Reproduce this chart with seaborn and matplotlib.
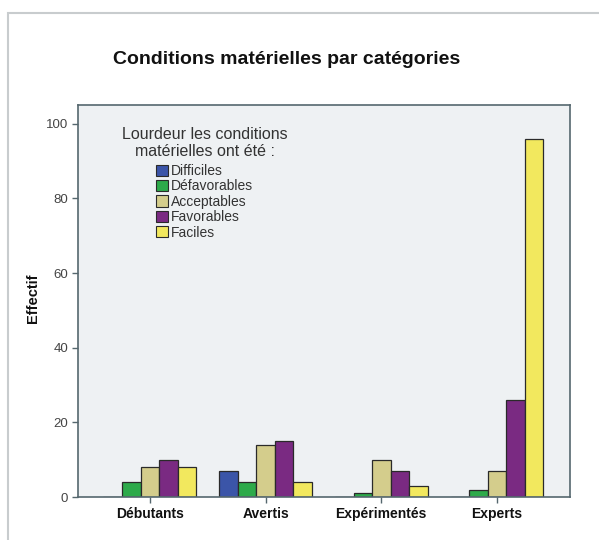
import matplotlib
matplotlib.use("Agg")
import matplotlib.pyplot as plt
import seaborn as sns
import pandas as pd
from matplotlib.patches import Rectangle

categories = ["Débutants", "Avertis", "Expérimentés", "Experts"]
levels = ["Difficiles", "Défavorables", "Acceptables", "Favorables", "Faciles"]
difficiles = [0, 7, 0, 0]
defavorables = [4, 4, 1, 2]
acceptables = [8, 14, 10, 7]
favorables = [10, 15, 7, 26]
faciles = [8, 4, 3, 96]
yticks = [0, 20, 40, 60, 80, 100]

colors = ["#3B55A8", "#2DAA4A", "#D4CD8C", "#7A2A82", "#F2E85E"]

series = [difficiles, defavorables, acceptables, favorables, faciles]
rows = []
for lvl, vals in zip(levels, series):
    for cat, v in zip(categories, vals):
        rows.append({"cat": cat, "lvl": lvl, "n": v})
df = pd.DataFrame(rows)

sns.set_style("white")
plt.rcParams["font.family"] = ["Liberation Sans", "DejaVu Sans"]

fig = plt.figure(figsize=(5.99, 5.40), dpi=100)
fig.patch.set_facecolor("white")
ax = fig.add_axes([78 / 599, 1 - 497 / 540, (570 - 78) / 599, (497 - 105) / 540])
ax.set_facecolor("#EEF1F3")

sns.barplot(data=df, x="cat", y="n", hue="lvl", order=categories, hue_order=levels,
            palette=colors, width=0.8, ax=ax, edgecolor="#2A2A2A", linewidth=0.9,
            legend=False, saturation=1)

ax.set_xlim(-0.62, 3.63)
ax.set_ylim(0, 105)
ax.set_yticks(yticks)
ax.set_yticklabels([str(t) for t in yticks], fontsize=9.5, color="#444444")
ax.set_xticks(range(len(categories)))
ax.set_xticklabels(categories, fontsize=10, fontweight="bold", color="#111111")
ax.tick_params(axis="both", which="both", length=4, width=1, color="#55676E",
               direction="out", bottom=True, left=True, pad=3)
ax.set_xlabel("")
ax.set_ylabel("")
fig.text(33 / 599, 1 - 298 / 540, "Effectif", rotation=90, ha="center", va="center",
         fontsize=10.5, fontweight="bold", color="#111111")
for s in ax.spines.values():
    s.set_color("#55676E")
    s.set_linewidth(1.2)

fig.text(287 / 599, 1 - 60 / 540, "Conditions matérielles par catégories",
         ha="center", va="center", fontsize=14, fontweight="bold", color="#111111")

# legend
fig.text(205 / 599, 1 - 143 / 540, "Lourdeur les conditions\nmatérielles ont été :",
         ha="center", va="center", fontsize=11.5, color="#333333", linespacing=1.1)
handles = [Rectangle((0, 0), 1, 1, facecolor=c, edgecolor="#2A2A2A", linewidth=0.8) for c in colors]
leg = fig.legend(handles, levels, loc="upper left",
                 bbox_to_anchor=(156 / 599, 1 - 164 / 540), frameon=False,
                 fontsize=10, handlelength=0.85, handleheight=0.85, handletextpad=0.2,
                 labelspacing=0.1, borderpad=0, borderaxespad=0)
for t in leg.get_texts():
    t.set_color("#333333")

# outer frame
fig.add_artist(Rectangle((8 / 599, -0.05), 1.2, 1 - 13 / 540 + 0.05, transform=fig.transFigure,
                         fill=False, edgecolor="#C8CCCE", linewidth=1.5))

fig.savefig("out.png", dpi=100, facecolor="white")
